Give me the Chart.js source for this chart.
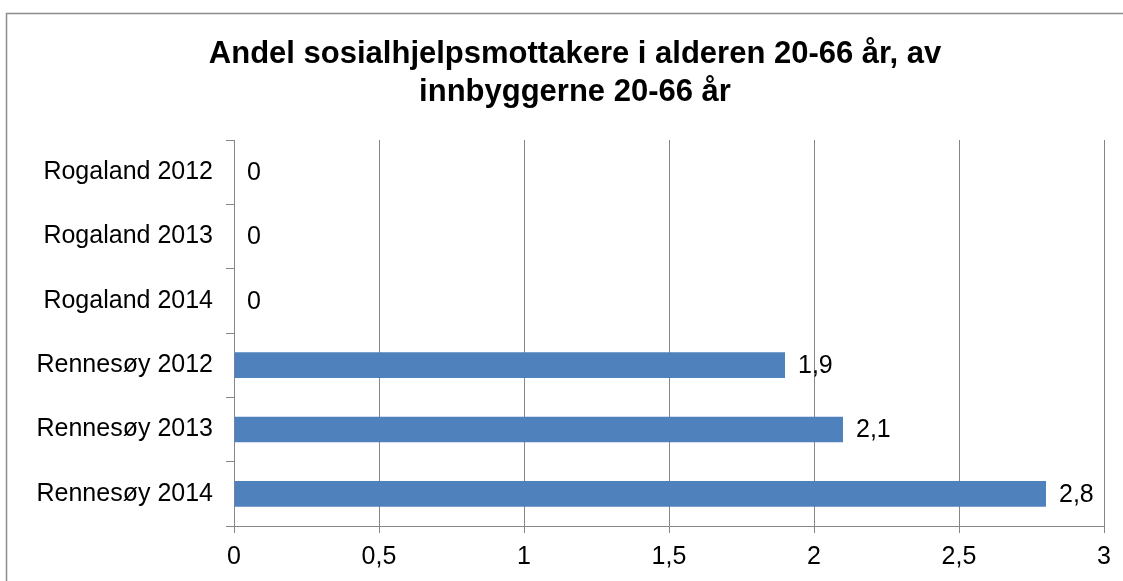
<!DOCTYPE html>
<html>
<head>
<meta charset="utf-8">
<script src="https://cdn.jsdelivr.net/npm/chart.js@4/dist/chart.umd.min.js"></script>
<style>
  html, body { margin: 0; padding: 0; background: #fff; }
  #wrap { width: 1123px; height: 581px; }
</style>
</head>
<body>
<div id="wrap"><canvas id="chart" width="1123" height="581"></canvas></div>
<script>
// --- Data ---
const categories = ['Rogaland 2012', 'Rogaland 2013', 'Rogaland 2014', 'Rennesøy 2012', 'Rennesøy 2013', 'Rennesøy 2014'];
const values = [0, 0, 0, 1.9, 2.1, 2.8];
const xMin = 0;
const xMax = 3;
const xStep = 0.5;
const titleLines = ['Andel sosialhjelpsmottakere i alderen 20-66 år, av', 'innbyggerne 20-66 år'];

// --- Styles ---
const FONT = "'Liberation Sans', Arial, sans-serif";
const GRID = '#868686';
const BAR = '#4F81BD';

const fmt = v => String(v).replace('.', ',');

// frame around the whole chart
const framePlugin = {
  id: 'frame',
  beforeDraw(chart) {
    const ctx = chart.ctx;
    ctx.save();
    ctx.strokeStyle = '#8c8c8c';
    ctx.lineWidth = 1.5;
    ctx.strokeRect(6.5, 13.5, chart.width + 20, chart.height + 20);
    ctx.restore();
  }
};

// two-line title, centred a bit right of the canvas middle
const titlePlugin = {
  id: 'titleText',
  afterDraw(chart) {
    const ctx = chart.ctx;
    ctx.save();
    ctx.font = 'bold 31px ' + FONT;
    ctx.fillStyle = '#000';
    ctx.textAlign = 'center';
    ctx.textBaseline = 'middle';
    titleLines.forEach((line, i) => ctx.fillText(line, 575, 54 + i * 38));
    ctx.restore();
  }
};

// value text to the right of each bar
const valueLabels = {
  id: 'valueLabels',
  afterDatasetsDraw(chart) {
    const ctx = chart.ctx;
    const meta = chart.getDatasetMeta(0);
    ctx.save();
    ctx.font = '25px ' + FONT;
    ctx.fillStyle = '#000';
    ctx.textAlign = 'left';
    ctx.textBaseline = 'middle';
    meta.data.forEach((bar, i) => {
      ctx.fillText(fmt(values[i]), bar.x + 13, bar.y + 1);
    });
    ctx.restore();
  }
};

Chart.defaults.font.family = FONT;
Chart.defaults.color = '#000';

new Chart(document.getElementById('chart'), {
  type: 'bar',
  data: {
    labels: categories,
    datasets: [{
      data: values,
      backgroundColor: BAR,
      borderWidth: 0,
      categoryPercentage: 1,
      barPercentage: 0.4
    }]
  },
  options: {
    indexAxis: 'y',
    responsive: false,
    animation: false,
    devicePixelRatio: 1,
    layout: { padding: { left: 0, right: 19, top: 140, bottom: 0 } },
    plugins: {
      legend: { display: false },
      tooltip: { enabled: false },
      title: { display: false }
    },
    scales: {
      x: {
        min: xMin,
        max: xMax,
        afterFit: s => { s.height = 55; },
        ticks: {
          stepSize: xStep,
          padding: 9,
          font: { size: 25 },
          callback: v => fmt(v)
        },
        grid: { color: GRID, lineWidth: 1, tickLength: 7 },
        border: { color: GRID, width: 1 }
      },
      y: {
        afterFit: s => { s.width = 234; },
        ticks: { padding: 13, font: { size: 25 } },
        grid: { color: GRID, drawOnChartArea: false, tickLength: 8, offset: true },
        border: { color: GRID, width: 1 }
      }
    }
  },
  plugins: [framePlugin, titlePlugin, valueLabels]
});
</script>
</body>
</html>
